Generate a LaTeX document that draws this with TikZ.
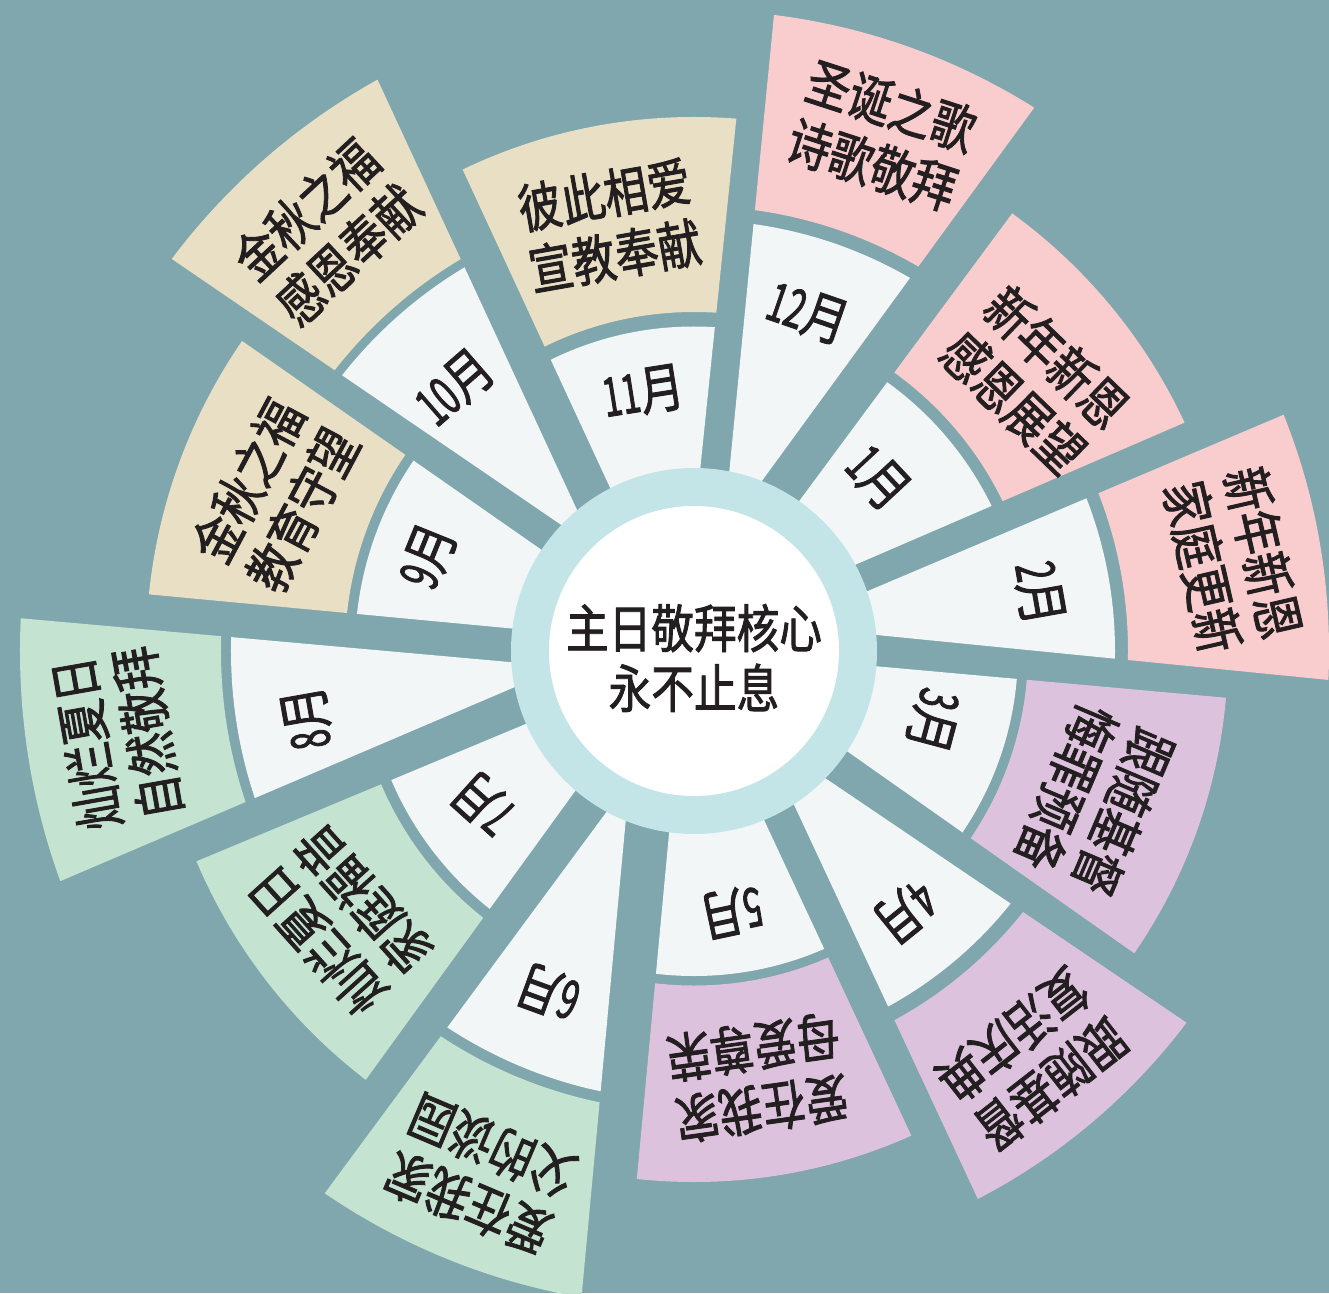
\documentclass[tikz,border=0pt]{standalone}
\usepackage{fontspec}
\usetikzlibrary{calc}
\newfontfamily\cjk[FakeStretch=0.82,FakeBold=1.6]{Noto Sans CJK SC}
\newfontfamily\cjkdig[FakeStretch=0.62,FakeBold=1.6]{Noto Sans CJK SC}
\definecolor{bgc}{RGB}{127,167,173}
\definecolor{cellc}{RGB}{242,246,247}
\definecolor{pinkc}{RGB}{249,204,205}
\definecolor{beigec}{RGB}{233,223,196}
\definecolor{purplec}{RGB}{220,194,220}
\definecolor{greenc}{RGB}{196,227,208}
\definecolor{ringc}{RGB}{195,229,232}
\definecolor{ink}{RGB}{35,31,32}
% #1 A outer, #2 A inner, #3 B outer, #4 B inner, #5 stretch, #6 grey radius, #7 inner, #8 outer, #9 colour
\newcommand\monthpiece[9]{%
  \begin{scope}
    \clip ($(#2)!3!(#1)$) -- ($(#1)!#5!(#2)$) -- (0,0) -- ($(#3)!#5!(#4)$) -- ($(#4)!3!(#3)$) -- cycle;
    \fill[cellc] (0,0) circle[radius=#6];
    \fill[#9,even odd rule] (0,0) circle[radius=#8] circle[radius=#7];
  \end{scope}}
\tikzset{
  theme/.style={font=\cjk\fontsize{53}{62}\selectfont, text=ink, align=center, inner sep=0pt},
  monthlbl/.style={font=\cjk\fontsize{54}{54}\selectfont, text=ink, inner sep=0pt},
  core/.style={font=\cjk\fontsize{52}{60}\selectfont, text=ink, align=center, inner sep=0pt}
}
\begin{document}
\begin{tikzpicture}[x=1pt,y=1pt]
\useasboundingbox (-694,-642) rectangle (635,651);
\fill[bgc] (-694,-642) rectangle (635,651);

\monthpiece{317,436}{200,278}{492,229}{309,150}{2.2}{331}{343}{541}{pinkc}
\monthpiece{589,236}{405,158}{635,-29}{434,-9}{2.6}{421}{434}{635}{pinkc}
\monthpiece{535,-47}{335,-29}{437,-300}{275,-186}{2.2}{324}{334}{534}{purplec}
\monthpiece{496,-374}{332,-263}{282,-544}{199,-366}{2.6}{405}{420}{617}{purplec}
\monthpiece{218,-486}{134,-306}{-57,-526}{-39,-333}{2.2}{325}{334.5}{531}{purplec}
\monthpiece{-112,-641}{-94,-447}{-372,-546}{-256,-389}{2.6}{450}{461}{656}{greenc}
\monthpiece{-324,-423}{-208,-263}{-504,-213}{-317,-135}{2.2}{329}{340}{540}{greenc}
\monthpiece{-631,-229}{-446,-150}{-676,33}{-475,15}{2.6}{463}{473}{674}{greenc}
\monthpiece{-549,57}{-347,38}{-449,308}{-287,195}{2.2}{339}{349}{548}{beigec}
\monthpiece{-528,396}{-364,284}{-314,566}{-231,387}{2.6}{447}{456}{653}{beigec}
\monthpiece{-233,485}{-151,308}{42,529}{22,335}{2.2}{324.5}{339}{534}{beigec}
\monthpiece{80,636}{61,442}{340,543}{224,384}{2.6}{431}{445}{641}{pinkc}

\fill[ringc] (0,0) circle[radius=183];
\fill[white] (0,0) circle[radius=145];

\node[core] (center) at (0,-7) {主日敬拜核心\\永不止息};

% month labels
\node[monthlbl, rotate=-47] (m1) at (43.2:252.6) {{\cjkdig 1}月};
\node[monthlbl, rotate=-80] (m2) at (9.5:350) {{\cjkdig 2}月};
\node[monthlbl, rotate=-105] (m3) at (-16.3:249) {{\cjkdig 3}月};
\node[monthlbl, rotate=-141] (m4) at (-51:335.6) {{\cjkdig 4}月};
\node[monthlbl, rotate=-168] (m5) at (-81.9:263.6) {{\cjkdig 5}月};
\node[monthlbl, rotate=160] (m6) at (-113.2:371) {{\cjkdig 6}月};
\node[monthlbl, rotate=138] (m7) at (-144.2:260) {{\cjkdig 7}月};
\node[monthlbl, rotate=100] (m8) at (189.8:392.8) {{\cjkdig 8}月};
\node[monthlbl, rotate=68] (m9) at (160.3:282.5) {{\cjkdig 9}月};
\node[monthlbl, rotate=41] (m10) at (132.2:356) {{\cjkdig 10}月};
\node[monthlbl, rotate=9] (m11) at (101.1:264) {{\cjkdig 11}月};
\node[monthlbl, rotate=-19] (m12) at (71.4:356.7) {{\cjkdig 12}月};

% themes
\node[theme, rotate=-44] (t1) at (38.5:435.6) {新年新恩\\感恩展望};
\node[theme, rotate=-77] (t2) at (9.6:546.6) {新年新恩\\家庭更新};
\node[theme, rotate=-113] (t3) at (-20.4:427.8) {跟随基督\\悔罪预备};
\node[theme, rotate=-142] (t4) at (-50.4:530.6) {跟随基督\\复活庆典};
\node[theme, rotate=-172] (t5) at (-81.5:431.8) {爱在我家\\母爱尊荣};
\node[theme, rotate=157] (t6) at (-112.2:566) {爱在我家\\父的谈园};
\node[theme, rotate=132] (t7) at (-142.8:444.6) {灿烂夏日\\家庭福音};
\node[theme, rotate=100] (t8) at (188.6:583.5) {灿烂夏日\\自然敬拜};
\node[theme, rotate=62] (t9) at (159.6:447) {金秋之福\\教育守望};
\node[theme, rotate=43] (t10) at (131.2:557) {金秋之福\\感恩奉献};
\node[theme, rotate=10] (t11) at (101.2:434) {彼此相爱\\宣教奉献};
\node[theme, rotate=-18] (t12) at (70:549) {圣诞之歌\\诗歌敬拜};
\end{tikzpicture}
\end{document}
